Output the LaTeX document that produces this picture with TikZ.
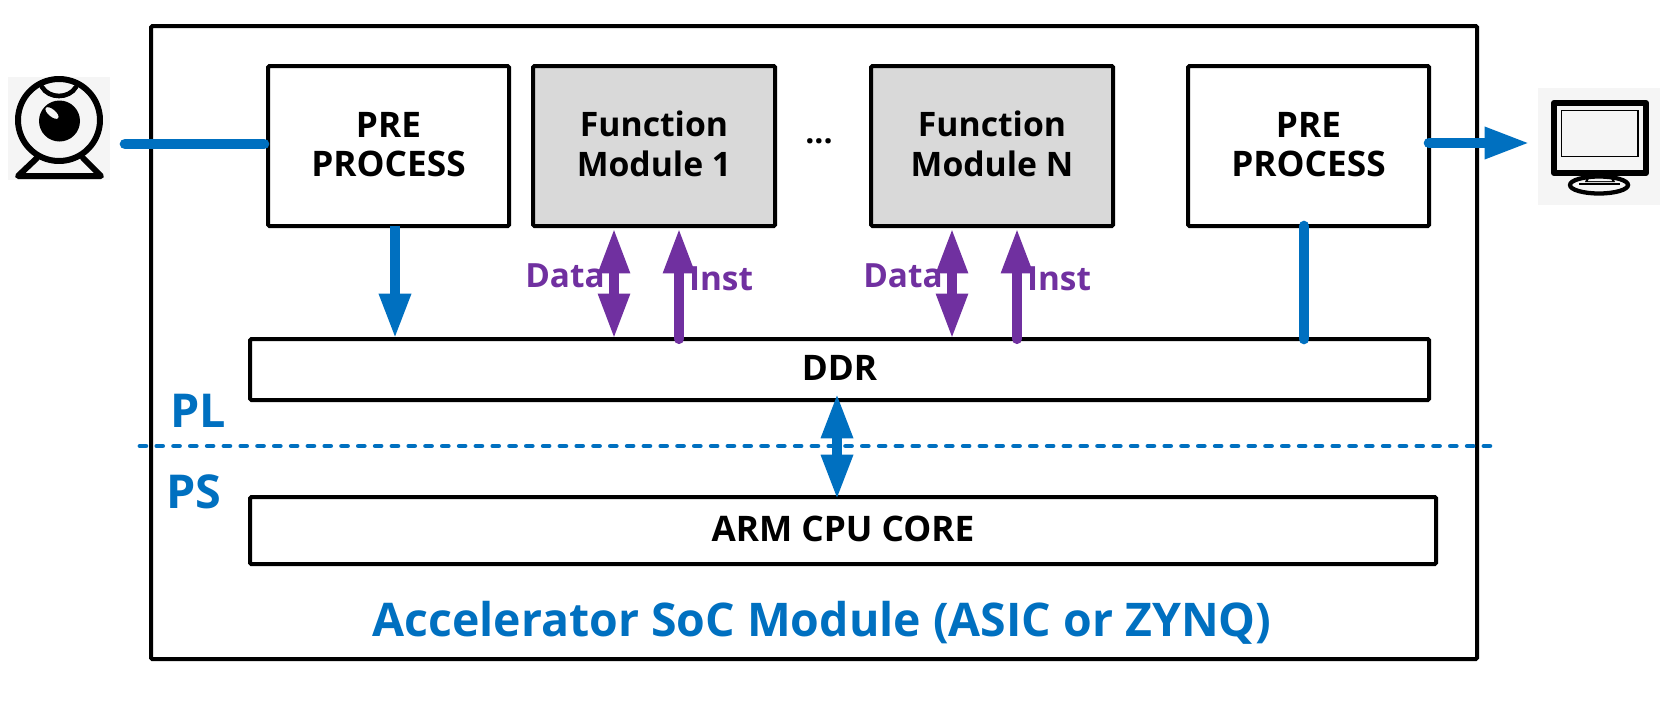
\documentclass[tikz,border=0pt]{standalone}
\usepackage{fontspec}
\setmainfont{Open Sans}
\usetikzlibrary{arrows.meta,calc}
\definecolor{mblue}{HTML}{0070C0}
\definecolor{mpurple}{HTML}{7030A0}
\definecolor{mgray}{HTML}{D9D9D9}
\definecolor{iconbg}{HTML}{F5F5F5}
\tikzset{
  frameBox/.style={draw=black,line width=3pt,rounded corners=1pt,inner sep=0pt,outer sep=0pt,align=center},
  grayBox/.style={frameBox,fill=mgray},
  boxTxt/.style={inner sep=0pt,outer sep=0pt,align=center,font=\fontsize{25.3}{29.5}\selectfont\bfseries},
  preTxt/.style={boxTxt,font=\fontsize{26.4}{29.5}\selectfont\bfseries},
  blueLine/.style={draw=mblue,line width=8pt,line cap=round},
  purpleLine/.style={draw=mpurple,line width=7.6pt,line cap=round},
  lbl/.style={inner sep=0pt,outer sep=0pt,font=\fontsize{24}{28}\selectfont\bfseries},
  blueLbl/.style={lbl,text=mblue},
  purpleLbl/.style={lbl,text=mpurple,font=\fontsize{25}{28}\selectfont\bfseries},
  iconLine/.style={draw=black,line width=4.5pt,line join=round,line cap=round},
}
\def\tipA{Triangle[length=34pt,width=22pt]}
\begin{document}
\begin{tikzpicture}[x=0.75pt,y=-0.75pt]
\useasboundingbox (0,0) rectangle (1660,700);
\fill[white] (0,0) rectangle (1660,700);
% outer module
\node[frameBox,minimum width=1326*0.75pt,minimum height=633*0.75pt] (soc) at (814,342.5) {};
% coordinates for x positions of connectors
\coordinate (xpre) at (395,0);
\coordinate (xda) at (614,0);
\coordinate (xia) at (679,0);
\coordinate (xdb) at (952,0);
\coordinate (xib) at (1017,0);
\coordinate (xpost) at (1304,0);
\coordinate (xcpu) at (837,0);
\coordinate (inS) at (125,144);
\coordinate (outE) at (1530,143);
% boxes
\node[frameBox,minimum width=241*0.75pt,minimum height=160*0.75pt] (pre) at (388.5,146) {};
\node[grayBox,minimum width=242*0.75pt,minimum height=160*0.75pt] (fa) at (654,146) {};
\node[grayBox,minimum width=242*0.75pt,minimum height=160*0.75pt] (fb) at (992,146) {};
\node[frameBox,minimum width=241*0.75pt,minimum height=160*0.75pt] (post) at (1308.5,146) {};
\node[preTxt] (preT) at ([yshift=1pt]pre.center) {PRE\\PROCESS};
\node[boxTxt] (faT) at ([yshift=1.5pt]fa.center) {Function\\Module 1};
\node[boxTxt] (fbT) at ([yshift=1.5pt]fb.center) {Function\\Module N};
\node[preTxt] (postT) at ([yshift=1pt]post.center) {PRE\\PROCESS};
\node[frameBox,minimum width=1179*0.75pt,minimum height=61*0.75pt] (ddr) at (839.5,369.5) {};
\node[frameBox,minimum width=1186*0.75pt,minimum height=67*0.75pt] (arm) at (843,530.5) {};
\node[preTxt] (ddrT) at ([yshift=1.5pt]ddr.center) {DDR};
\node[preTxt] (armT) at ([yshift=1.5pt]arm.center) {ARM CPU CORE};
% labels
\node[lbl] (dots) at (819,141) {...};
\node[blueLbl,font=\fontsize{35}{38}\selectfont\bfseries] (pl) at (198,411) {PL};
\node[blueLbl,font=\fontsize{35}{38}\selectfont\bfseries] (ps) at (194,492) {PS};
\node[blueLbl,font=\fontsize{34.8}{38}\selectfont\bfseries] (title) at (822,623) {Accelerator SoC Module (ASIC or ZYNQ)};
% dotted PL/PS divider
\coordinate (divL) at (140,446);
\coordinate (divR) at (1490,446);
\draw[draw=mblue,line width=3.6pt,line cap=round,dash pattern=on 4.4pt off 8.2pt] (divL) -- (divR);
% webcam icon
\coordinate (camCenter) at (59,120);
\node[fill=iconbg,minimum width=102*0.75pt,minimum height=103*0.75pt,inner sep=0pt,outer sep=0pt] (cam) at (59,128.5) {};
\draw[iconLine] (camCenter) circle[radius=41];
\fill[black] (59.5,121) circle[radius=20.5];
\fill[iconbg,rotate around={-40:(52,113)}] (52,113) ellipse[x radius=8,y radius=3.5];
\draw[iconLine,line width=3.5pt] (42,87) .. controls (49,99) and (69,99) .. (76,87);
\draw[iconLine] (37,158) -- (18,176) -- (101,176) -- (83,158);
% monitor icon
\node[fill=iconbg,minimum width=122*0.75pt,minimum height=117*0.75pt,inner sep=0pt,outer sep=0pt] (mon) at (1599,146.5) {};
\draw[draw=black,line width=4.5pt,line join=round] (1554,103) rectangle (1646,173);
\draw[draw=black,line width=1.3pt] (1561.5,110.5) rectangle (1638,156.5);
\fill[black] (1588,175) -- (1612,175) -- (1615,182) -- (1585,182) -- cycle;
\fill[iconbg] (1590,176) -- (1610,176) -- (1612,181) -- (1588,181) -- cycle;
\draw[draw=black,line width=3.2pt] (1599,185) ellipse[x radius=29,y radius=8.5];
\draw[draw=black,line width=1.5pt] (1579,184) -- (1620,184);
% connectors
\draw[blueLine,shorten >=3pt] (inS) -- (pre.west |- inS);
\draw[blueLine,-\tipA] (post.east |- outE) -- (outE);
\draw[blueLine,line cap=butt,-\tipA] (pre.south -| xpre) -- (ddr.north -| xpre);
\draw[blueLine] (post.south -| xpost) -- (ddr.north -| xpost);
\draw[purpleLine,line cap=butt,\tipA-\tipA] ($(fa.south -| xda)+(0,2)$) -- (ddr.north -| xda);
\draw[purpleLine,-\tipA] (ddr.north -| xia) -- ($(fa.south -| xia)+(0,2)$);
\draw[purpleLine,line cap=butt,\tipA-\tipA] ($(fb.south -| xdb)+(0,2)$) -- (ddr.north -| xdb);
\draw[purpleLine,-\tipA] (ddr.north -| xib) -- ($(fb.south -| xib)+(0,2)$);
\draw[blueLine,line cap=butt,\tipA-\tipA] ($(ddr.south -| xcpu)+(0,-7)$) -- ($(arm.north -| xcpu)+(0,3)$);
% arrow labels
\node[purpleLbl] (da) at (565,276) {Data};
\node[purpleLbl] (ia) at (721,279) {Inst};
\node[purpleLbl] (db) at (903,276) {Data};
\node[purpleLbl] (ib) at (1059,279) {Inst};
\end{tikzpicture}
\end{document}
